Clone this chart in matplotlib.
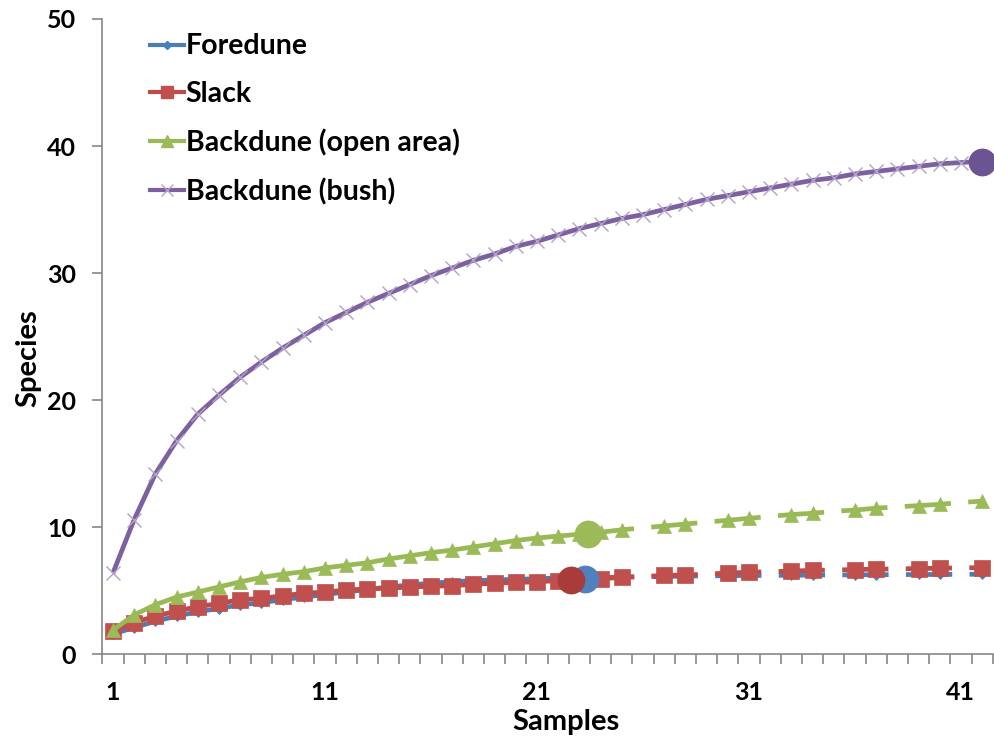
import matplotlib
matplotlib.use("Agg")
import matplotlib.pyplot as plt
from matplotlib.lines import Line2D
import numpy as np

plt.rcParams['font.family'] = ['Lato', 'DejaVu Sans']
plt.rcParams['font.weight'] = 'bold'
plt.rcParams['lines.scale_dashes'] = False

# ---- data ------------------------------------------------------------------
samples = np.arange(1, 43)
names = ["Foredune", "Slack", "Backdune (open area)", "Backdune (bush)"]

# observed (solid) part, starting at sample 1
fore_obs = [1.6, 2.1, 2.6, 3.0, 3.35, 3.6, 3.9, 4.05, 4.3, 4.5, 4.7, 4.9, 5.1,
            5.3, 5.45, 5.6, 5.7, 5.8, 5.85, 5.9, 5.95, 6.0, 6.0]
slack_obs = [1.85, 2.5, 3.0, 3.4, 3.75, 4.0, 4.3, 4.4, 4.6, 4.8, 4.9, 5.05, 5.15,
             5.2, 5.3, 5.35, 5.4, 5.5, 5.6, 5.65, 5.7, 5.8]
open_obs = [1.9, 3.1, 3.9, 4.5, 4.9, 5.3, 5.7, 6.05, 6.3, 6.5, 6.8, 7.0, 7.2,
            7.5, 7.75, 8.0, 8.2, 8.45, 8.7, 8.95, 9.15, 9.3, 9.45]
bush_obs = [6.4, 10.6, 14.2, 16.8, 18.9, 20.4, 21.8, 23.0, 24.1, 25.1, 26.1,
            26.9, 27.7, 28.4, 29.1, 29.8, 30.4, 31.0, 31.5, 32.1, 32.5, 33.0,
            33.5, 33.9, 34.3, 34.6, 35.0, 35.4, 35.8, 36.1, 36.4, 36.7, 37.0,
            37.3, 37.5, 37.8, 38.0, 38.2, 38.4, 38.6, 38.7, 38.8]

# extrapolated (dashed) part, following the observed samples up to 42
fore_ext = [6.05, 6.08, 6.1, 6.12, 6.15, 6.17, 6.18, 6.2, 6.2, 6.22, 6.23,
            6.24, 6.25, 6.26, 6.27, 6.28, 6.28, 6.29, 6.3]
slack_ext = [5.9, 5.95, 6.05, 6.12, 6.2, 6.25, 6.3, 6.4, 6.45, 6.5, 6.55, 6.6,
             6.63, 6.67, 6.7, 6.72, 6.75, 6.77, 6.8, 6.82]
open_ext = [9.6, 9.8, 9.95, 10.1, 10.25, 10.4, 10.55, 10.7, 10.85, 11.0, 11.1,
            11.25, 11.35, 11.5, 11.6, 11.7, 11.8, 11.95, 12.05]
bush_ext = []

# big dots (observed sample size)
dot_x = [23.28, 22.62, 23.43, 42.0]
dot_y = [5.9, 5.85, 9.5, 38.75]

# ---- style -----------------------------------------------------------------
line_col = ["#4A7EBB", "#BE4B48", "#98B954", "#7D60A0"]
dot_col = ["#4F81BD", "#A93B3A", "#9BBB59", "#6B5491"]
mk = ["D", "s", "^", "x"]
mk_size = [5.5, 11, 10.5, 10]
mk_face = ["#4A7EBB", "#C0504D", "#9BBB59", "#B3A2C7"]

fig = plt.figure(figsize=(9.94, 7.44), dpi=100)
ax = fig.add_axes([0.103, 0.1206, 0.8957, 0.8539])
ax.set_xlim(0.5, 42.5)
ax.set_ylim(0, 50)


def dash_for(x0):
    # long-dash pattern, 3 samples long, gaps centred on 26, 29, 32 ...
    c = ax.bbox.width / 42.0
    P = 3 * c
    on, off = 8 / 11 * P, 3 / 11 * P
    phase = (9.5 / 11 * P - (26 - x0) * c) % P
    k = 72.0 / fig.dpi
    return (phase * k, (on * k, off * k))


obs = [fore_obs, slack_obs, open_obs, bush_obs]
ext = [fore_ext, slack_ext, open_ext, bush_ext]
lw = 3.4
for i in range(4):
    n = len(obs[i])
    mkw = dict(marker=mk[i], markersize=mk_size[i], markerfacecolor=mk_face[i],
               markeredgecolor=mk_face[i],
               markeredgewidth=1.0 if mk[i] == "x" else 0.5)
    ax.plot(samples[:n], obs[i], color=line_col[i], lw=lw,
            solid_capstyle="butt", zorder=2 + i, **mkw)
    if ext[i]:
        xs = samples[n - 1:]
        ys = [obs[i][-1]] + ext[i]
        keep = [j for j in range(1, len(xs))
                if not (xs[j] >= 26 and (xs[j] - 26) % 3 == 0)]
        ax.plot(xs, ys, color=line_col[i], lw=lw, linestyle=dash_for(xs[0]),
                markevery=keep, zorder=2 + i, **mkw)

for i in range(4):
    ax.plot(dot_x[i], dot_y[i], "o", ms=20, color=dot_col[i], mew=0,
            zorder=10, clip_on=False)

# ---- axes ------------------------------------------------------------------
for s in ["top", "right"]:
    ax.spines[s].set_visible(False)
for s in ["left", "bottom"]:
    ax.spines[s].set_color("#868686")
    ax.spines[s].set_linewidth(1.2)

ax.set_yticks(np.arange(0, 51, 10))
ax.set_xticks([1, 11, 21, 31, 41])
ax.set_xticks(np.arange(0.5, 43, 1), minor=True)
ax.tick_params(axis="y", length=7, width=1.2, color="#868686", pad=12,
               labelsize=18)
ax.tick_params(axis="x", which="minor", length=7, width=1.2, color="#868686")
ax.tick_params(axis="x", which="major", length=0, pad=19, labelsize=18)

ax.set_xlabel("Samples", fontsize=21, fontweight="bold")
ax.set_ylabel("Species", fontsize=21, fontweight="bold")
ax.xaxis.set_label_coords(0.5208, -0.086)
ax.yaxis.set_label_coords(-0.068, 0.466)

handles = []
for i in range(4):
    handles.append(Line2D([], [], color=line_col[i], lw=3, marker=mk[i],
                          markersize=mk_size[i] * 0.8,
                          markerfacecolor=mk_face[i],
                          markeredgecolor=mk_face[i]))
fig.legend(handles, names, loc="upper left", bbox_to_anchor=(0.151, 0.955),
           frameon=False, fontsize=20.5, handlelength=1.2, handletextpad=0.05,
           labelspacing=0.76, borderpad=0, borderaxespad=0)

fig.savefig("out.png", dpi=100)
